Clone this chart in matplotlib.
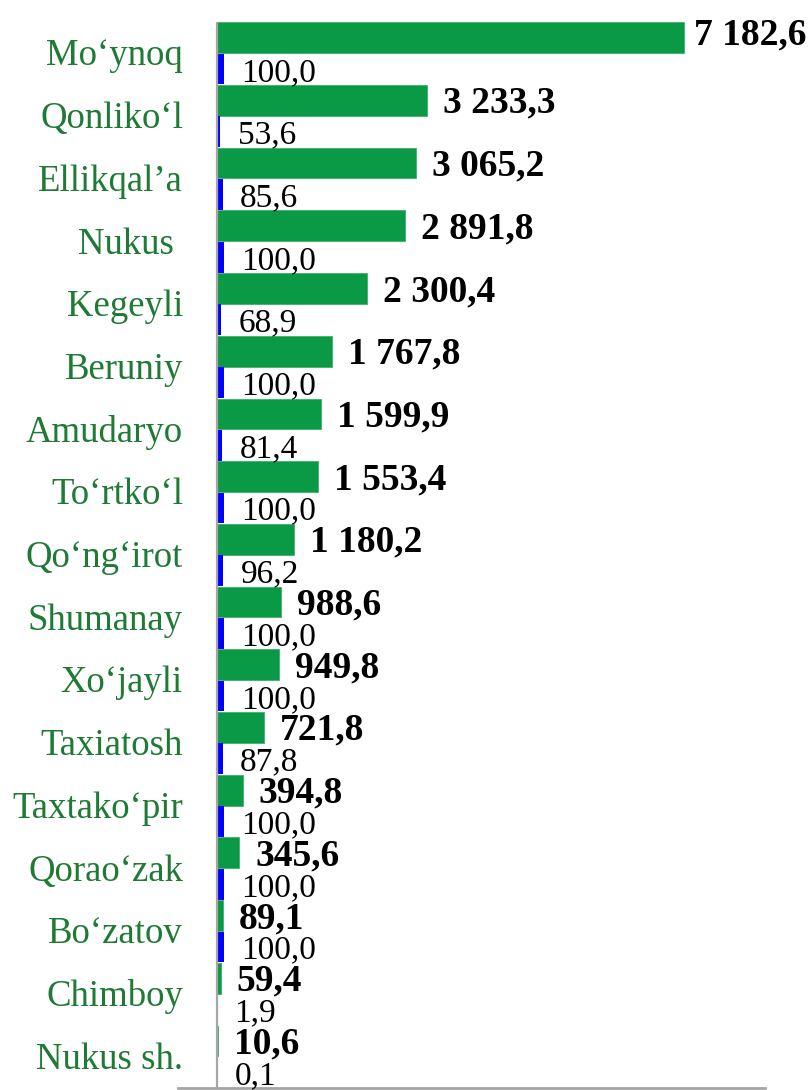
import matplotlib.pyplot as plt
import numpy as np

# districts, top to bottom
districts = ["Mo‘ynoq", "Qonliko‘l", "Ellikqal’a", "Nukus ", "Kegeyli", "Beruniy",
             "Amudaryo", "To‘rtko‘l", "Qo‘ng‘irot", "Shumanay", "Xo‘jayli",
             "Taxiatosh", "Taxtako‘pir", "Qorao‘zak", "Bo‘zatov", "Chimboy", "Nukus sh."]
volume = [7182.6, 3233.3, 3065.2, 2891.8, 2300.4, 1767.8, 1599.9, 1553.4, 1180.2,
          988.6, 949.8, 721.8, 394.8, 345.6, 89.1, 59.4, 10.6]
share = [100.0, 53.6, 85.6, 100.0, 68.9, 100.0, 81.4, 100.0, 96.2,
         100.0, 100.0, 87.8, 100.0, 100.0, 100.0, 1.9, 0.1]

GREEN = "#0a9a45"
TEXT_GREEN = "#1e7a34"
BLUE = "#0000ff"
GRAY = "#a6a6a6"


def fmt(v):
    # space as thousands separator, comma as decimal mark
    s = f"{v:,.1f}"
    return s.replace(",", " ").replace(".", ",")


plt.rcParams['font.family'] = ['Liberation Serif', 'DejaVu Serif']

fig = plt.figure(figsize=(8.1, 10.9), dpi=100)
ax = fig.add_axes([178 / 810, 2 / 1090, 587 / 810, 1066 / 1090])

y = np.arange(len(districts))
h = 0.49
ax.barh(y - 0.25, volume, height=h, color=GREEN, edgecolor="#3fae6c", linewidth=0.6)
ax.barh(y + 0.25, share, height=h, color=BLUE, linewidth=0)

ax.set_xlim(-600, 8428)
ax.set_ylim(len(districts) - 0.5, -0.5)
ax.axvline(0, color=GRAY, lw=1.6)

for s in ["top", "right", "left"]:
    ax.spines[s].set_visible(False)
ax.spines["bottom"].set_color(GRAY)
ax.spines["bottom"].set_linewidth(2)
ax.set_xticks([])
ax.set_yticks([])

big = []
for i, name in enumerate(districts):
    ax.annotate(name, (0, i), xytext=(-24.5, -8.7), textcoords="offset points",
                ha="right", va="baseline", fontsize=26.5, color=TEXT_GREEN)
    t = ax.annotate(fmt(volume[i]), (volume[i], i - 0.25), xytext=(11.5, -9),
                    textcoords="offset points", ha="left", va="baseline",
                    fontsize=27, fontweight="bold", color="black")
    big.append(t)
    ax.annotate(fmt(share[i]), (share[i], i + 0.25), xytext=(12.5, -8.5),
                textcoords="offset points", ha="left", va="baseline",
                fontsize=24, color="black")

# keep labels inside the figure
fig.canvas.draw()
r = fig.canvas.get_renderer()
for t in big:
    bb = t.get_window_extent(r)
    if bb.x1 > fig.bbox.width - 4:
        dx = (bb.x1 - fig.bbox.width + 4) * 72 / fig.dpi
        x0, y0 = t.xyann
        t.xyann = (x0 - dx, y0 + 4)

fig.savefig("out.png", dpi=100)
